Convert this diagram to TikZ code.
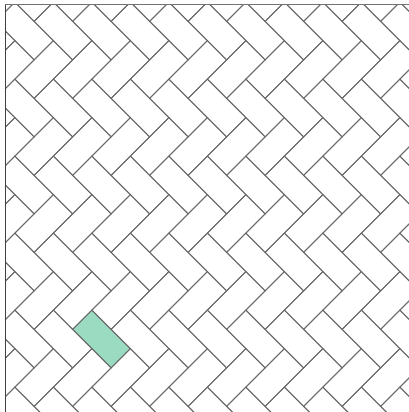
\documentclass[tikz,border=0pt]{standalone}
\usepackage{tikz}
\definecolor{tileline}{RGB}{105,105,105}
\definecolor{mint}{RGB}{154,219,193}
\tikzset{
  tile/.style={draw=tileline, line width=0.9pt, line join=miter},
  hilite/.style={fill=mint, draw=tileline, line width=0.9pt}
}
\begin{document}
\begin{tikzpicture}[x=1pt,y=1pt]
\useasboundingbox (0,0) rectangle (409,-412);
\fill[white] (0,0) rectangle (409,-412);
\begin{scope}
\clip (5,-5) rectangle (412,-415);
\begin{scope}[shift={(72.7pt,-329.4pt)}, x={(19.25pt,-19.25pt)}, y={(19.25pt,19.25pt)}]
  \fill[mint] (0,0) -- (2,0) -- (2,1) -- (0,1) -- cycle;
  \foreach \n in {-22,...,22}{
    \foreach \m in {-11,...,11}{
      \pgfmathtruncatemacro\a{\n+2*\m}
      \pgfmathtruncatemacro\b{\n-2*\m}
      \draw[tile] (\a,\b) -- (\a+2,\b) -- (\a+2,\b+1) -- (\a,\b+1) -- cycle;
      \draw[tile] (\a+2,\b-1) -- (\a+3,\b-1) -- (\a+3,\b+1) -- (\a+2,\b+1) -- cycle;
    }
  }
\end{scope}
\end{scope}
\draw[draw=black!75, line width=1pt] (5,-412) -- (5,-5);
\draw[draw=black!55, line width=1pt] (5,-5) -- (409,-5);
\end{tikzpicture}
\end{document}
